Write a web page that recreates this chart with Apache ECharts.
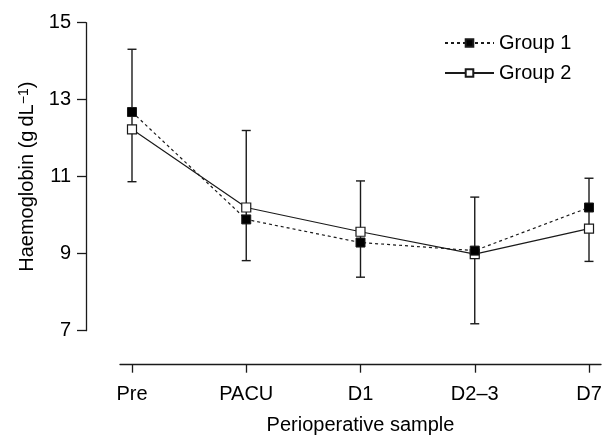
<!DOCTYPE html>
<html>
<head>
<meta charset="utf-8">
<script src="https://cdn.jsdelivr.net/npm/echarts@6/dist/echarts.min.js"></script>
<style>html,body{margin:0;padding:0;background:#fff}#c{width:604px;height:437px}</style>
</head>
<body>
<div id="c"></div>
<script>
const categories = ['Pre', 'PACU', 'D1', 'D2\u20133', 'D7'];
const group1 = [12.68, 9.89, 9.29, 9.08, 10.2];
const group2 = [12.23, 10.2, 9.57, 8.99, 9.65];
const errLow = [10.87, 8.82, 8.39, 7.18, 8.8];
const errHigh = [14.31, 12.2, 10.89, 10.47, 10.96];
const yTicks = [7, 9, 11, 13, 15];

const FONT = 'Liberation Sans';
const INK = '#1a1a1a';
const idx = categories.map((_, i) => i);

const chart = echarts.init(document.getElementById('c'), null, {renderer: 'canvas'});
chart.setOption({
  animation: false,
  backgroundColor: '#fff',
  grid: {left: 120, right: 3, top: 22.7, bottom: 106.3, containLabel: false, outerBoundsMode: 'none'},
  legend: {
    data: ['Group 1', 'Group 2'],
    orient: 'vertical',
    left: 439, top: 28,
    itemWidth: 49, itemHeight: 9.5, itemGap: 10,
    textStyle: {fontFamily: FONT, fontSize: 20, color: '#000'}
  },
  xAxis: {
    type: 'value', min: -0.105, max: 4.105,
    offset: 34,
    name: 'Perioperative sample', nameLocation: 'middle', nameGap: 51,
    nameTextStyle: {fontFamily: FONT, fontSize: 20, color: '#000'},
    splitLine: {show: false},
    axisLine: {show: true, onZero: false, lineStyle: {color: INK, width: 1.3}},
    axisTick: {show: true, length: 8, customValues: idx, lineStyle: {color: INK, width: 1.3}},
    axisLabel: {customValues: idx, margin: 20, fontFamily: FONT, fontSize: 20, color: '#000',
      formatter: v => categories[Math.round(v)]}
  },
  yAxis: {
    type: 'value', min: 7, max: 15, interval: 2,
    offset: 34,
    name: 'Haemoglobin (g\u2009dL{sup|\u22121})', nameLocation: 'middle', nameGap: 47,
    nameTextStyle: {fontFamily: FONT, fontSize: 20, color: '#000',
      rich: {sup: {fontFamily: FONT, fontSize: 14, color: '#000', verticalAlign: 'top', padding: [0, 0, 8, 0]}}},
    splitLine: {show: false},
    axisLine: {show: true, onZero: false, lineStyle: {color: INK, width: 1.3}},
    axisTick: {show: true, length: 9, lineStyle: {color: INK, width: 1.3}},
    axisLabel: {margin: 15, fontFamily: FONT, fontSize: 20, color: '#000',
      formatter: v => yTicks.includes(v) ? String(v) : ''}
  },
  series: [
    {
      type: 'custom', name: 'err', z: 1,
      data: idx.map(i => [i, errLow[i], errHigh[i]]),
      encode: {x: 0, y: [1, 2]},
      renderItem: function (params, api) {
        const x = api.value(0);
        const lo = api.coord([x, api.value(1)]);
        const hi = api.coord([x, api.value(2)]);
        const w = 4.5;
        const st = {stroke: INK, lineWidth: 1.4};
        return {type: 'group', children: [
          {type: 'line', shape: {x1: lo[0], y1: lo[1], x2: hi[0], y2: hi[1]}, style: st},
          {type: 'line', shape: {x1: lo[0] - w, y1: lo[1], x2: lo[0] + w, y2: lo[1]}, style: st},
          {type: 'line', shape: {x1: hi[0] - w, y1: hi[1], x2: hi[0] + w, y2: hi[1]}, style: st}
        ]};
      }
    },
    {
      type: 'line', name: 'Group 2', z: 2,
      data: idx.map(i => [i, group2[i]]),
      symbol: 'rect', symbolSize: 9,
      lineStyle: {color: INK, width: 1.2, type: 'solid'},
      itemStyle: {color: '#fff', borderColor: INK, borderWidth: 1.2}
    },
    {
      type: 'line', name: 'Group 1', z: 3,
      data: idx.map(i => [i, group1[i]]),
      symbol: 'rect', symbolSize: 9,
      lineStyle: {color: INK, width: 1.2, type: [3, 3]},
      itemStyle: {color: '#000', borderColor: INK, borderWidth: 1}
    }
  ]
});
</script>
</body>
</html>
